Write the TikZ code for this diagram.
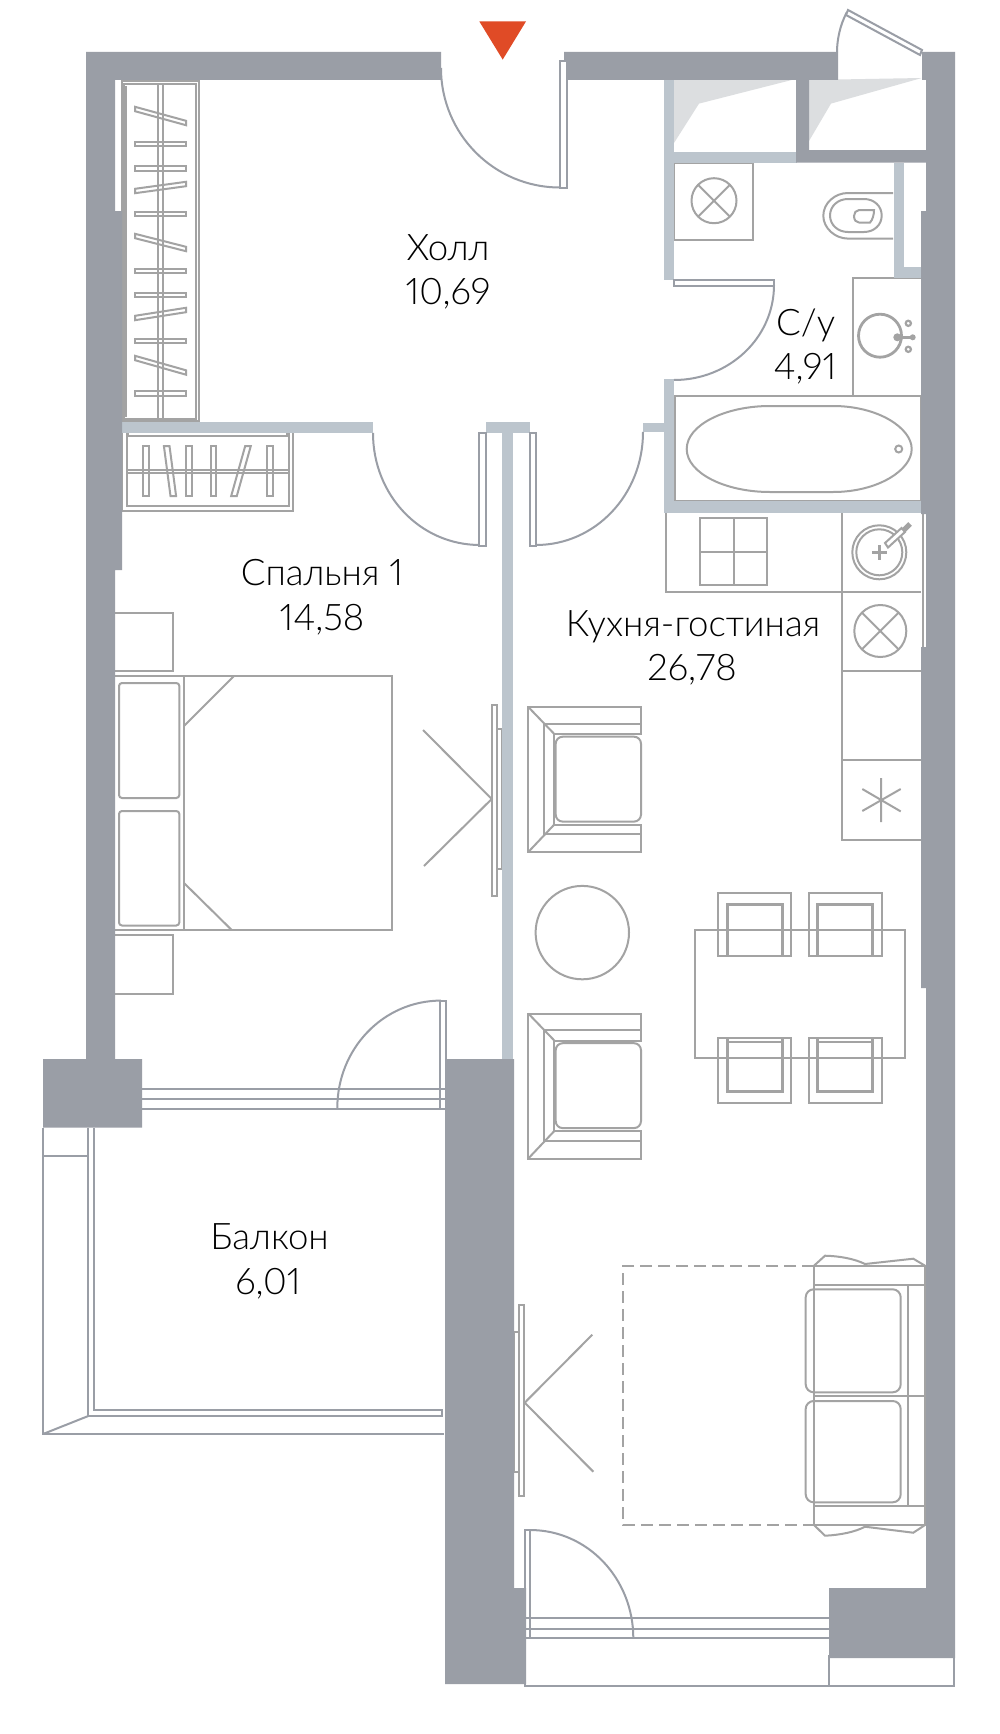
\documentclass[tikz,border=0pt]{standalone}
\usepackage{fontspec}
\setmainfont{Lato Light}[Numbers=Proportional]
\definecolor{wallc}{HTML}{9A9EA6}
\definecolor{partc}{HTML}{BCC5CD}
\definecolor{furnc}{HTML}{A3A3A3}
\definecolor{shadec}{HTML}{DCDEE0}
\definecolor{markc}{HTML}{E04B26}
\tikzset{
  wall/.style={fill=wallc,draw=none},
  part/.style={fill=partc,draw=none},
  shade/.style={fill=shadec,draw=none},
  furn/.style={draw=furnc,line width=1pt,line join=miter},
  thickf/.style={draw=furnc,line width=1.5pt},
  arc/.style={draw=wallc,line width=1pt},
  leaf/.style={draw=wallc,line width=1pt,fill=white},
  room/.style={inner sep=0pt,anchor=base,font=\fontsize{18.3}{20}\selectfont,text=black},
}
\newcommand{\hangH}[2]{\draw[furn,fill=white] (135,#1-2.2) -- (186,#2-2.2) -- (186,#2+2.2) -- (135,#1+2.2) -- cycle;}
\newcommand{\hangV}[2]{\draw[furn,fill=white] (#1-2.8,446) -- (#1+2.8,446) -- (#2+2.8,496) -- (#2-2.8,496) -- cycle;}
\newcommand{\armchair}[1]{\begin{scope}[shift={(0,#1)}]
  \draw[furn,fill=white] (528.3,707) -- (641,707) -- (641,734) -- (554.3,734) -- (554.3,824.5) -- (641,824.5) -- (641,852) -- (528.3,852) -- cycle;
  \draw[furn] (528.3,707) -- (554.3,734) (528.3,852) -- (554.3,824.5);
  \draw[furn] (641,723.7) -- (543.6,723.7) -- (543.6,834.4) -- (641,834.4);
  \draw[furn,rounded corners=3.5pt] (555.7,736.7) rectangle (641,821.6);
\end{scope}}
\newcommand{\topchair}[4]{% xl xr inner l inner r
  \draw[furn] (#1,892.7) rectangle (#2,956.3);
  \draw[furn] (#3,956.3) -- (#4,956.3);
  \draw[thickf] (#3,956.3) -- (#3,904) -- (#4,904) -- (#4,956.3);}
\newcommand{\botchair}[4]{%
  \draw[furn] (#1,1038) rectangle (#2,1103);
  \draw[furn] (#3,1041.6) -- (#4,1041.6);
  \draw[thickf] (#3,1038) -- (#3,1091.5) -- (#4,1091.5) -- (#4,1038);}
\begin{document}
\begin{tikzpicture}[x=0.5pt,y=-0.5pt]
\useasboundingbox (0,0) rectangle (1000,1734);
\fill[white] (0,0) rectangle (1000,1734);

% shades
\path[shade] (674,80) -- (791.7,80) -- (699,103.6) -- (674,143) -- cycle;
\path[shade] (809,80) -- (921.7,78) -- (831,103.6) -- (809,141) -- cycle;

% wardrobe large
\draw[furn] (122,81) rectangle (199.3,421);
\draw[furn] (123.5,84) rectangle (196,418.6);
\draw[furn] (122,87) rectangle (126,416);
\hangH{109}{123}\hangH{144}{144}\hangH{168.5}{168.5}\hangH{191}{184}
\hangH{214}{214}\hangH{236}{249}\hangH{271}{271}\hangH{295}{295}
\hangH{318}{310}\hangH{341}{341}\hangH{358}{372.5}\hangH{393.6}{393.6}
\draw[furn] (158,84) -- (158,418.6) (163,84) -- (163,418.6);

% wardrobe small
\draw[furn] (122,433) -- (122,510.7) -- (293,510.7) -- (293,433);
\draw[furn] (126.7,433) -- (126.7,506) -- (289,506) -- (289,433);
\draw[furn] (128,433) -- (128,436.4) -- (287,436.4) -- (287,433);
\hangV{146}{146}\hangV{166.7}{173.3}\hangV{189}{189}\hangV{213.3}{213.3}\hangV{248}{234}\hangV{269.7}{269.7}
\draw[furn] (127,469.6) -- (289,469.6) (127,473) -- (289,473);

% bedroom
\draw[furn] (115,613) -- (173.3,613) -- (173.3,671) -- (115,671);
\draw[furn] (115,676) -- (392,676) -- (392,930) -- (115,930);
\draw[furn] (184,676) -- (184,930);
\draw[furn] (184,726) -- (234,676) (184,883) -- (231.7,930);
\draw[furn,rounded corners=1.5pt] (119,683) rectangle (179.3,798);
\draw[furn,rounded corners=1.5pt] (119,811) rectangle (179.3,925.5);
\draw[furn] (115,935) -- (173.3,935) -- (173.3,994) -- (115,994);
\draw[furn] (497.3,728.7) rectangle (502,869);
\draw[furn] (492.3,705) rectangle (497.3,896);
\draw[furn] (423,730) -- (491.7,799) -- (424,866);

% balcony
\draw[arc] (43,1127.6) -- (43,1434) -- (444,1434);
\draw[arc] (43,1156) -- (88.3,1156);
\draw[arc] (88.3,1127.6) -- (88.3,1416) -- (442,1416) -- (442,1410) -- (94,1410) -- (94,1127.6);
\draw[arc] (43,1434) -- (88.3,1416);
\draw[arc] (142,1088.6) -- (445,1088.6) (142,1099.4) -- (445,1099.4) (142,1108.6) -- (445,1108.6);
\draw[arc] (337.3,1108) .. controls (337.3,1049) and (383,1000.6) .. (441,1000.6);
\draw[arc] (440,1108) -- (440,1000.6) -- (445.5,1000.6) -- (445.5,1108);

% bath room fixtures
\draw[furn] (675,395.7) rectangle (921,501);
\draw[furn] (686.7,449) .. controls (686.7,425) and (725,406) .. (770,406) -- (833,406) .. controls (878,406) and (911.7,428) .. (911.7,449) .. controls (911.7,470) and (878,492) .. (833,492) -- (770,492) .. controls (725,492) and (686.7,473) .. (686.7,449) -- cycle;
\draw[furn] (898.7,449) circle[radius=3.5];
\draw[furn] (852.7,396) -- (852.7,278) -- (921,278);
\draw[draw=furnc,line width=1.4pt] (880,335.7) circle[radius=21.5];
\draw[thickf] (897.3,337.3) -- (912.7,337.3);
\fill[furnc] (897.3,337.3) circle[radius=4] (912.7,337.3) circle[radius=3];
\draw[thickf,line width=1.1pt] (908.3,323.3) circle[radius=2.6] (908.3,349.3) circle[radius=2.6];
\draw[furn] (674,162.5) rectangle (753.3,240);
\draw[furn] (714,200.7) circle[radius=22.5];
\draw[furn] (698.1,184.8) -- (729.9,216.6) (698.1,216.6) -- (729.9,184.8);
\draw[furn] (893,193) -- (848,193) .. controls (835,193) and (823.3,203) .. (823.3,215.8) .. controls (823.3,228) and (835,238.6) .. (848,238.6) -- (893,238.6);
\draw[furn] (848,199) .. controls (838,199) and (830,206) .. (830,215.5) .. controls (830,225) and (838,232) .. (848,232) -- (864,232) .. controls (874,232) and (881.7,225) .. (881.7,215.5) .. controls (881.7,206) and (874,199) .. (864,199) -- cycle;
\draw[furn] (874,210) -- (859,210) .. controls (856,210) and (854,213) .. (854,216) .. controls (854,220) and (856,222.5) .. (859,222.5) -- (870,222.5) .. controls (872.5,220) and (874,215) .. (874,210) -- cycle;

% kitchen
\draw[furn] (665.7,512.5) -- (665.7,592) -- (921,592);
\draw[furn] (841.7,512.5) -- (841.7,839.6) -- (921,839.6);
\draw[furn] (841.7,671.4) -- (921,671.4) (841.7,759.6) -- (921,759.6);
\draw[furn] (922.7,514) -- (922.7,647);
\draw[furn] (700,518.4) rectangle (767,585);
\draw[furn] (733.7,518.4) -- (733.7,585) (700,552) -- (767,552);
\draw[furn] (879.3,552.3) circle[radius=27] (879.3,552.3) circle[radius=23];
\draw[thickf,line width=1.2pt] (872,552.3) -- (887,552.3) (879.5,545) -- (879.5,560);
\draw[furn,fill=white] (885,543) -- (901.5,528) -- (905,532) -- (888,547.5) -- cycle;
\draw[draw=furnc,line width=2.6pt] (903.5,530.5) -- (910,524);
\draw[furn] (880.3,631) circle[radius=26];
\draw[furn] (861.9,612.6) -- (898.7,649.4) (861.9,649.4) -- (898.7,612.6);
\draw[furn] (881,778) -- (881,822) (862.3,789) -- (900.7,811.4) (862.3,811) -- (900.7,789);

% living
\armchair{0}
\armchair{306.5}
\draw[furn] (582.3,932.6) circle[radius=46.7];
\topchair{718}{791.3}{727.5}{782.5}
\topchair{808.7}{882.3}{817.5}{872.7}
\botchair{718}{791.3}{727.5}{782.5}
\botchair{808.7}{882.3}{817.5}{872.7}
\draw[furn] (695,930) rectangle (904.7,1058.4);

% sofa & carpet
\draw[furn,dash pattern=on 6pt off 3pt] (814,1265.7) -- (623.3,1265.7) -- (623.3,1525) -- (814,1525);
\draw[furn] (814,1265.7) rectangle (925,1525);
\draw[furn] (814,1285) -- (925,1285) (814,1506) -- (925,1506) (814,1395.7) -- (925,1395.7);
\draw[furn] (908,1285) -- (908,1506);
\draw[furn,rounded corners=4pt] (805.7,1289.3) rectangle (900.7,1392.3);
\draw[furn,rounded corners=4pt] (805.7,1401) rectangle (900.7,1502.3);
\draw[furn] (814,1265.7) -- (825,1255.7) .. controls (840,1256) and (855,1259) .. (865,1264) -- (913.3,1258.7) -- (925,1265.7);
\draw[furn] (814,1525) -- (825,1535.7) .. controls (840,1535) and (855,1532) .. (865,1526.7) -- (913.3,1532.7) -- (925,1525);
\draw[furn] (514,1332) rectangle (518.7,1472);
\draw[furn] (518.7,1305) rectangle (524,1496);
\draw[furn] (592.3,1334.7) -- (524.7,1402.7) -- (593.3,1471.7);

% front window
\draw[arc] (526,1617.7) -- (829,1617.7) (526,1629) -- (829,1629) (526,1638) -- (829,1638);
\draw[arc] (525,1638) -- (525,1686) -- (954,1686) -- (954,1655);
\draw[arc] (829,1655) -- (829,1686);
\draw[arc] (530,1530) .. controls (588,1530) and (633.3,1579) .. (633.3,1638);
\draw[arc] (525,1638) -- (525,1530) -- (530.3,1530) -- (530.3,1638);

% partitions
\path[part] (121.7,422) rectangle (373,433);
\path[part] (485.7,422) rectangle (530,433);
\path[part] (502,422) rectangle (512.7,1062);
\path[part] (643,422.5) rectangle (665,432);
\path[part] (664,80) rectangle (674,280);
\path[part] (664,379) rectangle (674,512.5);
\path[part] (674,152) rectangle (797,162.5);
\path[part] (664,501) rectangle (921,512.5);
\path[part] (894,162.5) rectangle (904,278);
\path[part] (894,267) rectangle (921,278);

% walls
\path[wall] (86,52) -- (441,52) -- (441,80) -- (115,80) -- (115,211) -- (122,211) -- (122,570) -- (115,570) -- (115,1059) -- (142,1059) -- (142,1127.6) -- (43,1127.6) -- (43,1059) -- (86,1059) -- cycle;
\path[wall] (445,1059) -- (514,1059) -- (514,1588) -- (526,1588) -- (526,1684) -- (445,1684) -- cycle;
\path[wall] (564,52) -- (838,52) -- (838,80) -- (809,80) -- (809,150) -- (926,150) -- (926,80) -- (922,80) -- (922,52) -- (955,52) -- (955,1658) -- (829,1658) -- (829,1588) -- (926,1588) -- (926,988) -- (921,988) -- (921,647) -- (926,647) -- (926,514) -- (921,514) -- (921,211) -- (926,211) -- (926,162.5) -- (796,162.5) -- (796,80) -- (564,80) -- cycle;

% doors
\draw[arc] (441,68) .. controls (441,134) and (494,187.5) .. (560,187.5);
\draw[leaf] (559.7,60.7) rectangle (566.7,187.5);
\draw[arc] (373,433) .. controls (373,495) and (420,545) .. (480,545);
\draw[leaf] (479.3,432.5) rectangle (486.3,545.5);
\draw[arc] (536,545) .. controls (595,545) and (643,495) .. (643,432);
\draw[leaf] (530,432.5) rectangle (536.3,545.5);
\draw[arc] (774,285) .. controls (774,338) and (729,380) .. (674,380);
\draw[leaf] (674,280) rectangle (774,285.7);
\draw[arc] (846.7,12.5) .. controls (840,25) and (837,40) .. (837,52);
\draw[leaf] (848,10) -- (922,50) -- (920,55) -- (846,15) -- cycle;

% entry marker
\fill[markc] (479.3,21.4) -- (526,21.4) -- (502.7,59.6) -- cycle;

% labels
\node[room] (hall) at (448,260.7) {Холл};
\node[room] (hallv) at (448,304.6) {10,69};
\node[room] (bath) at (805.7,335) {С/у};
\node[room] (bathv) at (805,379.6) {4,91};
\node[room] (bed) at (322,585) {Спальня 1};
\node[room] (bedv) at (322,630) {14,58};
\node[room] (kit) at (693,636) {Кухня-гостиная};
\node[room] (kitv) at (692,680) {26,78};
\node[room] (balc) at (269.5,1249) {Балкон};
\node[room] (balcv) at (268,1294) {6,01};
\end{tikzpicture}
\end{document}
